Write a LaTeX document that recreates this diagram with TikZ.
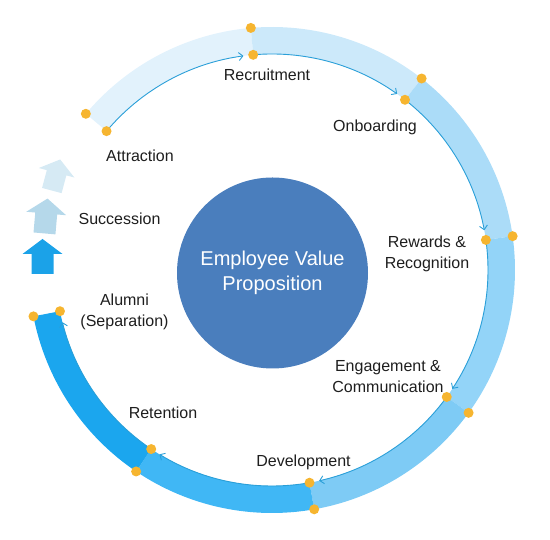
\documentclass[tikz,border=0pt]{standalone}
\usepackage{fontspec}
\setmainfont{Liberation Sans}
\usetikzlibrary{arrows.meta}
\definecolor{attractc}{HTML}{E2F2FC}
\definecolor{recruitc}{HTML}{CCE9FA}
\definecolor{onboardc}{HTML}{ABDCF8}
\definecolor{rewardc}{HTML}{93D4F8}
\definecolor{engagec}{HTML}{7ECBF5}
\definecolor{developc}{HTML}{40B7F5}
\definecolor{retainc}{HTML}{1BA6EE}
\definecolor{flowc}{HTML}{2A9FD8}
\definecolor{dotc}{HTML}{F6B530}
\definecolor{evpc}{HTML}{4A7EBD}
\definecolor{liftc}{HTML}{1BA2E8}
\definecolor{liftmidc}{HTML}{B5D8EA}
\definecolor{lifttopc}{HTML}{D6EAF4}
\definecolor{labelc}{HTML}{1E1E1E}
\tikzset{
    flow/.style={draw=flowc, line width=0.9pt, -{Straight Barb[length=4pt, width=8pt]}},
}
\begin{document}
\begin{tikzpicture}[x=1pt, y=1pt]
    \useasboundingbox (0,0) rectangle (550,540);
    \begin{scope}[shift={(272,270)}]
        % ring segments
        \fill[attractc] (140:243pt) arc[start angle=140, end angle=95, radius=243pt] -- (95:216pt) arc[start angle=95, end angle=140, radius=216pt] -- cycle;
        \fill[recruitc] (95:243pt) arc[start angle=95, end angle=52, radius=243pt] -- (52:216pt) arc[start angle=52, end angle=95, radius=216pt] -- cycle;
        \fill[onboardc] (52:243pt) arc[start angle=52, end angle=8, radius=243pt] -- (8:216pt) arc[start angle=8, end angle=52, radius=216pt] -- cycle;
        \fill[rewardc] (8:243pt) arc[start angle=8, end angle=-36, radius=243pt] -- (-36:216pt) arc[start angle=-36, end angle=8, radius=216pt] -- cycle;
        \fill[engagec] (-36:243pt) arc[start angle=-36, end angle=-80, radius=243pt] -- (-80:216pt) arc[start angle=-80, end angle=-36, radius=216pt] -- cycle;
        \fill[developc] (-80:243pt) arc[start angle=-80, end angle=-124, radius=243pt] -- (-124:216pt) arc[start angle=-124, end angle=-80, radius=216pt] -- cycle;
        \fill[retainc] (-124:243pt) arc[start angle=-124, end angle=-169, radius=243pt] -- (-169:216pt) arc[start angle=-169, end angle=-124, radius=216pt] -- cycle;
        % segment corners
        \coordinate (i0) at (140:216pt); \coordinate (o0) at (140:243pt);
        \coordinate (i1) at (95:216pt);  \coordinate (o1) at (95:243pt);
        \coordinate (i2) at (52:216pt);  \coordinate (o2) at (52:243pt);
        \coordinate (i3) at (8:216pt);   \coordinate (o3) at (8:243pt);
        \coordinate (i4) at (-36:216pt); \coordinate (o4) at (-36:243pt);
        \coordinate (i5) at (-80:216pt); \coordinate (o5) at (-80:243pt);
        \coordinate (i6) at (-124:216pt); \coordinate (o6) at (-124:243pt);
        \coordinate (i7) at (-169:216pt); \coordinate (o7) at (-169:243pt);
        % flow along the inner edge
        \draw[flow] (i0) arc[start angle=140, end angle=97.6, radius=216pt];
        \draw[flow] (i1) arc[start angle=95, end angle=54.6, radius=216pt];
        \draw[flow] (i2) arc[start angle=52, end angle=10.6, radius=216pt];
        \draw[flow] (i3) arc[start angle=8, end angle=-33.4, radius=216pt];
        \draw[flow] (i4) arc[start angle=-36, end angle=-77.4, radius=216pt];
        \draw[flow] (i5) arc[start angle=-80, end angle=-121.4, radius=216pt];
        \draw[flow] (i6) arc[start angle=-124, end angle=-166, radius=216pt];
        \fill[dotc] (i0) circle[radius=5pt] (o0) circle[radius=5pt]
            (i1) circle[radius=5pt] (o1) circle[radius=5pt]
            (i2) circle[radius=5pt] (o2) circle[radius=5pt]
            (i3) circle[radius=5pt] (o3) circle[radius=5pt]
            (i4) circle[radius=5pt] (o4) circle[radius=5pt]
            (i5) circle[radius=5pt] (o5) circle[radius=5pt]
            (i6) circle[radius=5pt] (o6) circle[radius=5pt]
            (i7) circle[radius=5pt] (o7) circle[radius=5pt];
    \end{scope}
    % succession arrows
    \begin{scope}[shift={(42.5,283.5)}]
        \fill[liftc] (0,17.5) -- (20,2.5) -- (11,2.5) -- (11,-17.5) -- (-11,-17.5) -- (-11,2.5) -- (-20,2.5) -- cycle;
    \end{scope}
    \begin{scope}[shift={(46,324)}, rotate=-5]
        \fill[liftmidc] (0,17.5) -- (20,2.5) -- (11,2.5) -- (11,-17.5) -- (-11,-17.5) -- (-11,2.5) -- (-20,2.5) -- cycle;
    \end{scope}
    \begin{scope}[shift={(56,365)}, rotate=-15, scale=0.92]
        \fill[lifttopc] (0,17.5) -- (20,2.5) -- (11,2.5) -- (11,-17.5) -- (-11,-17.5) -- (-11,2.5) -- (-20,2.5) -- cycle;
    \end{scope}
    % centre
    \node[circle, fill=evpc, minimum size=191pt, inner sep=0pt, text=white, align=center,
        font=\fontsize{20}{25}\selectfont] (evp) at (272.5,267) {Employee Value\\Proposition};
    % stage labels
    \begin{scope}
        \tikzstyle{every node}=[text=labelc, align=center, inner sep=0pt, font=\fontsize{16}{21}\selectfont]
        \node (recruitment) at (267,465) {Recruitment};
        \node (onboarding) at (375,413) {Onboarding};
        \node (rewards) at (427,286) {Rewards \&\\Recognition};
        \node (engagement) at (388,163.5) {Engagement \&\\Communication};
        \node (development) at (303.5,78) {Development};
        \node (retention) at (163,127) {Retention};
        \node (alumni) at (124.5,228) {Alumni\\(Separation)};
        \node (succession) at (119.5,321) {Succession};
        \node (attraction) at (140,384) {Attraction};
    \end{scope}
\end{tikzpicture}
\end{document}
